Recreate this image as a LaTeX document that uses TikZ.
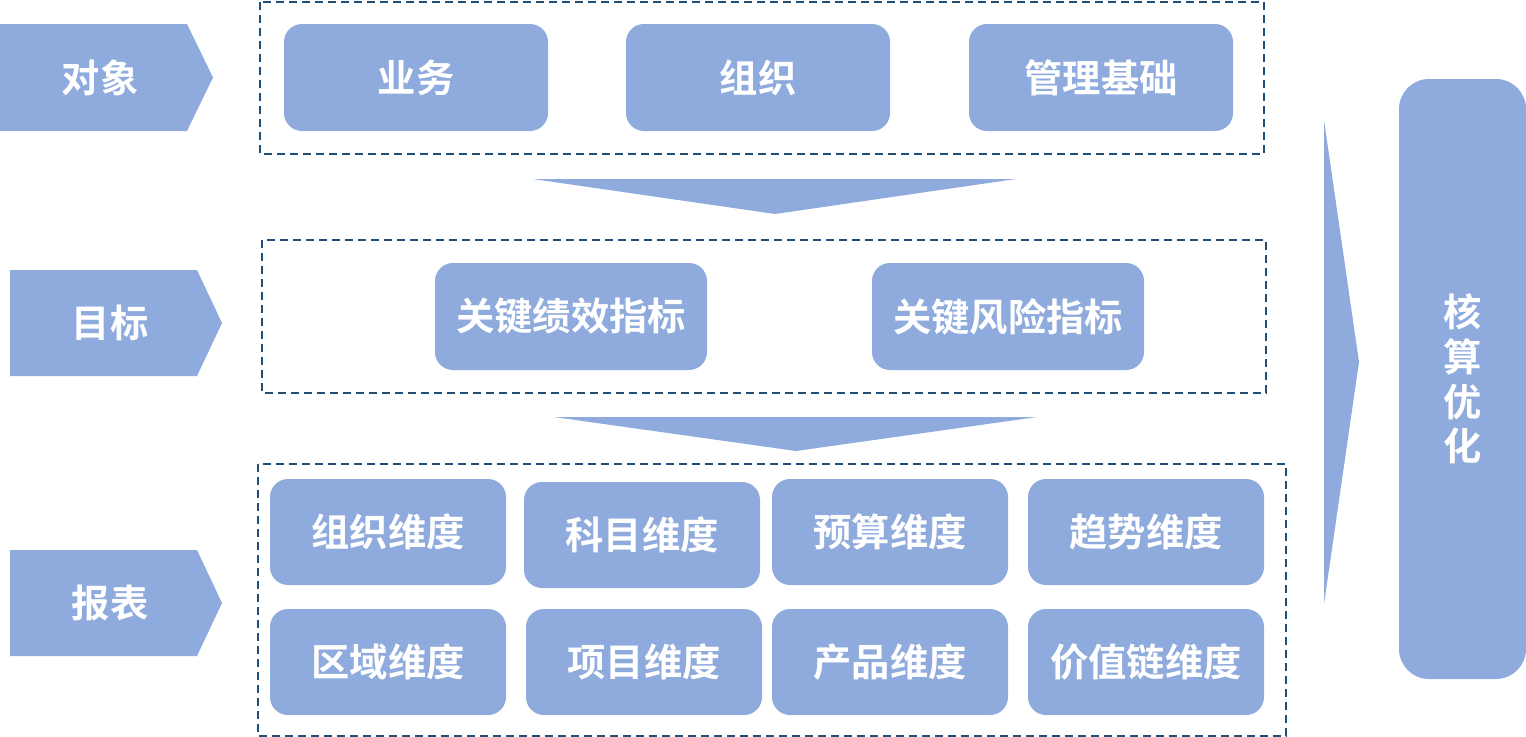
\documentclass[tikz,border=0pt]{standalone}
\usepackage{fontspec}
\newfontfamily\cjk{Noto Sans CJK SC}[BoldFont={Noto Sans CJK SC Bold}]
\newdimen\px \px=0.02cm
\definecolor{boxblue}{HTML}{8FAADC}
\definecolor{dashblue}{HTML}{1F4E79}
\tikzset{
  box/.style={fill=boxblue, draw=none, rounded corners=18\px, text=white,
    font=\cjk\bfseries\fontsize{21.8}{25}\selectfont, inner sep=0pt},
  topbox/.style={box, minimum width=264\px, minimum height=107\px},
  kpibox/.style={box, minimum width=272\px, minimum height=107\px},
  dimbox/.style={box, minimum width=236\px, minimum height=106\px},
  tagtext/.style={text=white, font=\cjk\bfseries\fontsize{21.8}{25}\selectfont, inner sep=0pt},
  frame/.style={draw=dashblue, line width=1.6\px, dash pattern=on 8\px off 5\px},
  shapefill/.style={fill=boxblue, draw=none}
}
\begin{document}
\begin{tikzpicture}[x=0.02cm, y=-0.02cm]
\useasboundingbox (0,0) rectangle (1526,737);
% tags
\fill[boxblue] (0,24) -- (187,24) -- (213,77.5) -- (187,131) -- (0,131) -- cycle;
\node[tagtext] (tag1) at (100,77.5) {对象};
\fill[boxblue] (10,270) -- (197,270) -- (222,323) -- (197,376) -- (10,376) -- cycle;
\node[tagtext] (tag2) at (110,323) {目标};
\fill[boxblue] (10,550) -- (197,550) -- (222,603) -- (197,656) -- (10,656) -- cycle;
\node[tagtext] (tag3) at (110,603) {报表};
% frames
\draw[frame] (260,2) rectangle (1264,154);
\draw[frame] (262,240) rectangle (1266,393);
\draw[frame] (258,464) rectangle (1286,736);
% top row
\node[topbox] (yw) at (416,77.5) {业务};
\node[topbox] (zz) at (758,77.5) {组织};
\node[topbox] (gl) at (1101,77.5) {管理基础};
% down arrows
\fill[boxblue] (533,179) -- (1016,179) -- (775,214) -- cycle;
\fill[boxblue] (554,417) -- (1037,417) -- (796,451) -- cycle;
% kpi row
\node[kpibox] (kpi) at (571,316.5) {关键绩效指标};
\node[kpibox] (kri) at (1008,316.5) {关键风险指标};
% dimensions
\node[dimbox] (d1) at (388,532) {组织维度};
\node[dimbox] (d2) at (642,535) {科目维度};
\node[dimbox] (d3) at (890,532) {预算维度};
\node[dimbox] (d4) at (1146,532) {趋势维度};
\node[dimbox] (d5) at (388,662) {区域维度};
\node[dimbox] (d6) at (644,662) {项目维度};
\node[dimbox] (d7) at (890,662) {产品维度};
\node[dimbox] (d8) at (1146,662) {价值链维度};
% right arrow
\fill[boxblue] (1324,120) -- (1359,362) -- (1324,604) -- cycle;
% result
\node[box, rounded corners=30\px, minimum width=127\px, minimum height=600\px,
  align=center, font=\cjk\bfseries\fontsize{21.8}{25.5}\selectfont] (res) at (1462.5,379) {核\\算\\优\\化};
\end{tikzpicture}
\end{document}
